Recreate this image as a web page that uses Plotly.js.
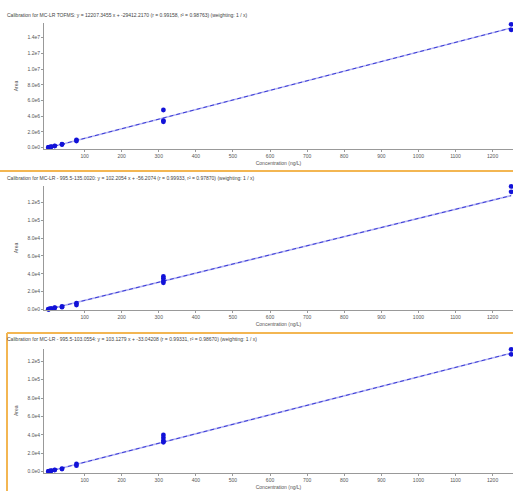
<!DOCTYPE html>
<html><head><meta charset="utf-8">
<script src="https://cdn.plot.ly/plotly-3.0.1.min.js"></script>
<style>html,body{margin:0;padding:0;background:#fff}#chart{width:513px;height:491px}</style>
</head><body><div id="chart"></div>
<script>
// ---- data ----
const panelTitles = [
  "Calibration for MC-LR TOFMS: y = 12207.3455 x + -29412.2170 (r = 0.99158, r² = 0.98763) (weighting: 1 / x)",
  "Calibration for MC-LR - 995.5-135.0020: y = 102.2054 x + -56.2074 (r = 0.99933, r² = 0.97870) (weighting: 1 / x)",
  "Calibration for MC-LR - 995.5-103.0554: y = 103.1279 x + -33.04208 (r = 0.99331, r² = 0.98670) (weighting: 1 / x)"
];
const conc1 = [2.4,2.4,4.9,4.9,9.8,9.8,19.5,19.5,39.1,39.1,78.1,78.1,312.5,312.5,312.5,1250,1250];
const area1 = [25000,32000,55000,62000,110000,125000,210000,240000,400000,440000,850000,1000000,4800000,3450000,3300000,15700000,15000000];
const conc2 = [2.4,2.4,4.9,4.9,9.8,9.8,19.5,19.5,39.1,39.1,78.1,78.1,312.5,312.5,312.5,312.5,1250,1250];
const area2 = [300,250,500,600,1000,900,1800,2000,3500,2600,7000,5000,37000,35000,32000,30000,138000,132000];
const conc3 = [2.4,2.4,4.9,4.9,9.8,9.8,19.5,19.5,39.1,39.1,78.1,78.1,312.5,312.5,312.5,312.5,1250,1250];
const area3 = [300,250,500,600,1000,1100,2000,1800,3400,2900,8500,6500,40000,37000,34000,32000,133000,127600];
const fitSlopes = [12207.3455, 102.2054, 103.1279];
const fitIntercepts = [-29412.2170, -56.2074, -33.04208];
const fitRange = [0, 1250];
const xTickVals = [100,200,300,400,500,600,700,800,900,1000,1100,1200];
const yTickVals1 = [0,2e6,4e6,6e6,8e6,1e7,1.2e7,1.4e7];
const yTickText1 = ["0.0e0","2.0e6","4.0e6","6.0e6","8.0e6","1.0e7","1.2e7","1.4e7"];
const yTickVals23 = [0,2e4,4e4,6e4,8e4,1e5,1.2e5];
const yTickText23 = ["0.0e0","2.0e4","4.0e4","6.0e4","8.0e4","1.0e5","1.2e5"];
const xLabel = "Concentration (ng/L)";
const yLabel = "Area";

// ---- build ----
const W = 513, H = 491;
const py = (top, bottom) => [(H - bottom) / H, (H - top) / H];
const doms = [py(23.4, 148.5), py(185.9, 310), py(349, 472.5)];
const yRanges = [[-1.0e5, 1.5812e7], [-560, 138600], [-870, 133400]];
const concs = [conc1, conc2, conc3];
const areas = [area1, area2, area3];
const FONT = "Liberation Sans, Arial, sans-serif";
const traces = [];
const layout = {
  width: W, height: H, margin: {l: 0, r: 0, t: 0, b: 0},
  paper_bgcolor: "#fff", plot_bgcolor: "#fff", showlegend: false,
  font: {family: FONT, size: 5, color: "#555"},
  annotations: [], shapes: []
};
const titleY = [15, 178, 339];
for (let i = 0; i < 3; i++) {
  const s = i === 0 ? "" : String(i + 1);
  const fx = fitRange, fy = fitRange.map(v => fitSlopes[i] * v + fitIntercepts[i]);
  traces.push({x: fx, y: fy, xaxis: "x" + s, yaxis: "y" + s, mode: "lines",
    line: {color: "#b4b4f4", width: 1.6}, hoverinfo: "skip"});
  traces.push({x: fx, y: fy, xaxis: "x" + s, yaxis: "y" + s, mode: "lines",
    line: {color: "#2a2ad0", width: 0.9, dash: "4px,3px"}, hoverinfo: "skip"});
  traces.push({x: concs[i], y: areas[i], xaxis: "x" + s, yaxis: "y" + s, mode: "markers",
    cliponaxis: false, marker: {color: "#1212d8", size: 4.8, symbol: "circle"}});
  layout["xaxis" + s] = {
    domain: [44 / W, 1], anchor: "y" + s, range: [-9.4, 1255],
    tickvals: xTickVals, ticks: "outside", ticklen: 2, tickcolor: "#999",
    showline: true, linecolor: "#999", linewidth: 1, showgrid: false, zeroline: false,
    tickfont: {size: 5, color: "#555"},
    title: {text: xLabel, font: {size: 5, color: "#555"}, standoff: 3}
  };
  layout["yaxis" + s] = {
    domain: doms[i], anchor: "x" + s, range: yRanges[i],
    tickvals: i === 0 ? yTickVals1 : yTickVals23, ticktext: i === 0 ? yTickText1 : yTickText23,
    ticks: "outside", ticklen: 2, tickcolor: "#999",
    showline: true, linecolor: "#999", linewidth: 1, showgrid: false, zeroline: false,
    tickfont: {size: 5, color: "#555"},
    title: {text: yLabel, font: {size: 5, color: "#555"}, standoff: 8}
  };
  layout.annotations.push({text: panelTitles[i], xref: "paper", yref: "paper",
    x: 5 / W, y: 1 - titleY[i] / H, xanchor: "left", yanchor: "middle", showarrow: false,
    font: {size: 5, color: "#444"}});
}
// orange pane separators / border of selected pane
const orange = "#f3b652";
layout.shapes.push({type: "line", xref: "paper", yref: "paper", x0: 0, x1: 1,
  y0: 1 - 171 / H, y1: 1 - 171 / H, line: {color: orange, width: 2}});
layout.shapes.push({type: "line", xref: "paper", yref: "paper", x0: 7 / W, x1: 1,
  y0: 1 - 333 / H, y1: 1 - 333 / H, line: {color: orange, width: 2}});
layout.shapes.push({type: "line", xref: "paper", yref: "paper", x0: 7 / W, x1: 7 / W,
  y0: 0, y1: 1 - 333 / H, line: {color: orange, width: 2}});
Plotly.newPlot("chart", traces, layout, {staticPlot: true, displayModeBar: false});
</script></body></html>
